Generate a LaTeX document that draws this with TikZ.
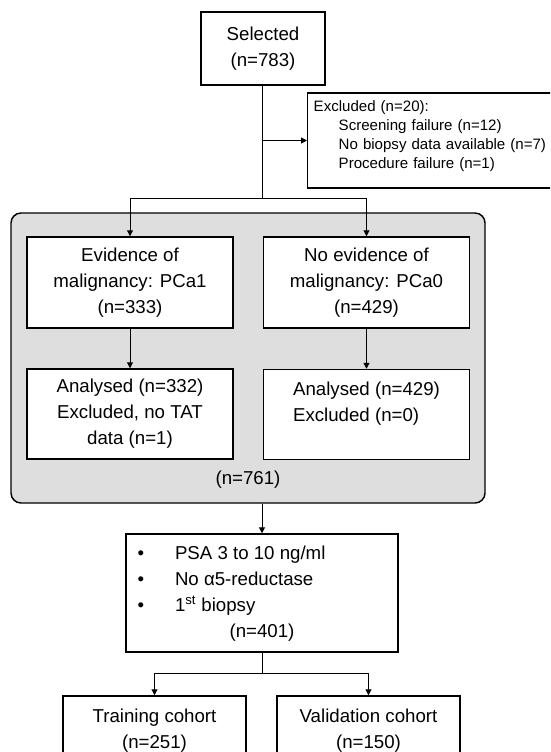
\documentclass[tikz,border=0pt]{standalone}
\usepackage{fontspec}
\setmainfont{Liberation Sans}
\usetikzlibrary{arrows.meta}

\definecolor{panelgray}{RGB}{222,222,222}

\tikzset{
  box/.style={draw, line width=1.1pt, fill=white, align=center, inner sep=0pt,
    font=\fontsize{14}{19.5}\selectfont},
  arr/.style={line width=0.75pt, -{Triangle[length=4.5pt,width=4.5pt]}},
  conn/.style={line width=0.75pt},
}

\begin{document}
\begin{tikzpicture}[x=0.75pt,y=0.75pt,yscale=-1,xscale=1]
\useasboundingbox (0,0) rectangle (550,752);
\clip (0,0) rectangle (550,752);

%Rounded panel
\node [draw, line width=1.1pt, fill=panelgray, rounded corners=7.5pt, minimum width=355.5pt, minimum height=217.5pt] (all) at (248,358) {};
\node [font=\fontsize{14}{19.5}\selectfont, inner sep=0pt] (alln) at (248,480) {(n=761)};

% Boxes
\node [box, minimum width=93pt, minimum height=54.75pt] (sel) at (263,48.5) {Selected\\(n=783)};
\node [box, anchor=west, minimum height=71.25pt, text width=188pt, inner xsep=4.5pt, align=left,
  font=\fontsize{11.3}{14.1}\selectfont] (excl) at (307,140.5)
  {Excluded (n=20):\\
   \hspace*{18.75pt}Screening failure (n=12)\\
   \hspace*{18.75pt}No biopsy data available (n=7)\\
   \hspace*{18.75pt}Procedure failure (n=1)\\[-5pt]\mbox{}};
\node [box, minimum width=154.5pt, minimum height=68.25pt] (evid) at (130,282.5) {Evidence of\\malignancy: PCa1\\(n=333)};
\node [box, minimum width=154.5pt, minimum height=68.25pt] (noevid) at (366.5,282.5) {No evidence of\\malignancy: PCa0\\(n=429)};
\node [box, minimum width=154.5pt, minimum height=67.5pt] (ana1) at (130,414) {Analysed (n=332)\\Excluded, no TAT\\data (n=1)};
\node [box, minimum width=154.5pt, minimum height=67.5pt, align=left] (ana0) at (366.5,414.5) {Analysed (n=429)\\Excluded (n=0)\\\mbox{}};
\node [box, minimum width=204pt, minimum height=88.5pt] (crit) at (262,593)
  {\begin{tabular}{@{}p{28.1pt}@{}p{158.6pt}@{}}
   \textbullet & PSA 3 to 10 ng/ml\\
   \textbullet & No α5-reductase\\
   \textbullet & 1\textsuperscript{st} biopsy\\
   \multicolumn{2}{c}{(n=401)}
   \end{tabular}};
\node [box, minimum width=137.25pt, minimum height=52.5pt] (train) at (154.5,731) {Training cohort\\(n=251)};
\node [box, minimum width=137.25pt, minimum height=52.5pt] (valid) at (368.5,731) {Validation cohort\\(n=150)};

% Connectors
\coordinate (brk) at (sel.south |- excl.west);
\coordinate (split1) at (262,199);
\coordinate (split2) at (262,673);
\draw [conn] (sel.south -| split1) -- (split1);
\draw [arr] (brk -| split1) -- (excl.west);
\draw [arr] (split1) -| (evid.north);
\draw [arr] (split1) -| (noevid.north);
\draw [arr] (evid) -- (ana1);
\draw [arr] (noevid) -- (ana0);
\draw [arr] (crit.north |- all.south) -- (crit.north);
\draw [conn] (crit.south) -- (split2);
\draw [arr] (split2) -| (train.north);
\draw [arr] (split2) -| (valid.north);

\end{tikzpicture}
\end{document}
